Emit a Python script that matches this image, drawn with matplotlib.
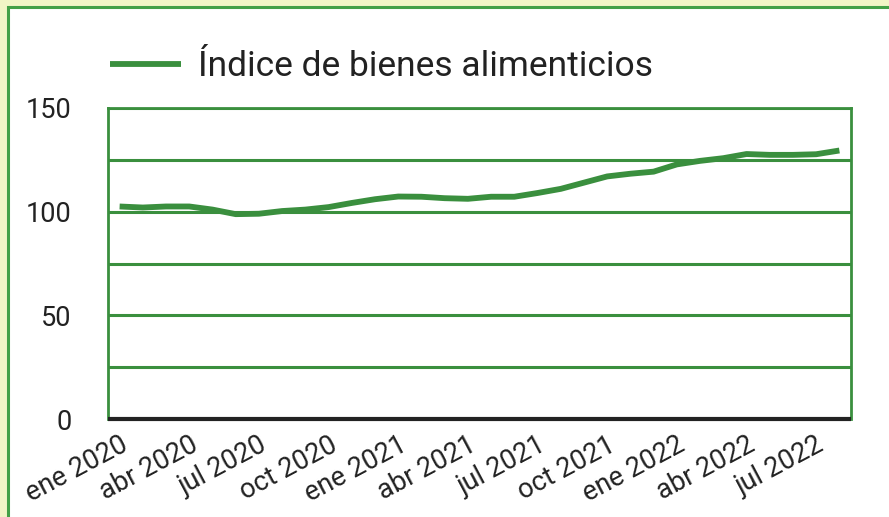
import matplotlib
matplotlib.use("Agg")
import matplotlib.pyplot as plt
from matplotlib.patches import Rectangle
from matplotlib.ticker import MultipleLocator, FixedLocator

plt.rcParams['font.family'] = ['Roboto', 'DejaVu Sans']

# Monthly index, ene 2020 .. ago 2022
months = ["ene 2020", "feb 2020", "mar 2020", "abr 2020", "may 2020", "jun 2020",
          "jul 2020", "ago 2020", "sep 2020", "oct 2020", "nov 2020", "dic 2020",
          "ene 2021", "feb 2021", "mar 2021", "abr 2021", "may 2021", "jun 2021",
          "jul 2021", "ago 2021", "sep 2021", "oct 2021", "nov 2021", "dic 2021",
          "ene 2022", "feb 2022", "mar 2022", "abr 2022", "may 2022", "jun 2022",
          "jul 2022", "ago 2022"]
indice = [102.5, 102.0, 102.5, 102.5, 101.0, 98.8, 99.0, 100.3, 101.0, 102.2,
          104.2, 106.0, 107.3, 107.2, 106.5, 106.2, 107.2, 107.2, 109.0, 111.0,
          114.0, 117.0, 118.3, 119.3, 122.8, 124.5, 125.8, 127.8, 127.4, 127.4,
          127.7, 129.5]
series_label = "Índice de bienes alimenticios"

GREEN = "#3a8f3e"
BORDER = "#43a047"
BG = "#f1f5c6"
TEXT = "#222222"

fig = plt.figure(figsize=(8.89, 5.17), dpi=100)
fig.patch.set_facecolor(BG)

# White card with green border
card = Rectangle((8 / 889, -0.05), 1.1, 1 - 7 / 517 + 0.05,
                 transform=fig.transFigure, facecolor="white",
                 edgecolor=BORDER, linewidth=2.2, zorder=-5)
fig.patches.append(card)

ax = fig.add_axes([108 / 889, 1 - 419 / 517, (851 - 108) / 889, (419 - 108) / 517])
ax.set_zorder(2)
ax.set_facecolor("white")

x = list(range(len(months)))
ax.plot(x, indice, color=GREEN, linewidth=4.2, solid_capstyle="butt",
        label=series_label, zorder=3)

ax.set_xlim(-0.5, len(months) - 0.5)
ax.set_ylim(0, 150)

ax.yaxis.set_major_locator(FixedLocator([0, 50, 100, 150]))
ax.yaxis.set_minor_locator(MultipleLocator(25))
ax.grid(True, axis="y", which="both", color=GREEN, linewidth=2.2, zorder=1)
ax.set_axisbelow(True)

tick_idx = list(range(0, len(months), 3))
ax.set_xticks(tick_idx)
ax.set_xticklabels([months[i] for i in tick_idx], rotation=28, ha="right",
                   rotation_mode="anchor", fontsize=19.5, color=TEXT)
ax.tick_params(axis="x", length=0, pad=9)
ax.tick_params(axis="y", which="both", length=0, pad=26, labelsize=19.5,
               labelcolor=TEXT)

for side in ("left", "right", "top"):
    ax.spines[side].set_color(GREEN)
    ax.spines[side].set_linewidth(2.0)
ax.spines["bottom"].set_color("#222222")
ax.spines["bottom"].set_linewidth(3.0)
ax.spines["bottom"].set_capstyle("butt")
ax.spines["bottom"].set_zorder(4)

leg = fig.legend(loc="center left", bbox_to_anchor=(110 / 889, 1 - 67 / 517),
                 frameon=False, fontsize=25.5, handlelength=2.0,
                 handletextpad=0.48, borderpad=0, borderaxespad=0,
                 labelcolor=TEXT)
leg.set_zorder(3)

fig.savefig("out.png", dpi=100, facecolor=BG)
